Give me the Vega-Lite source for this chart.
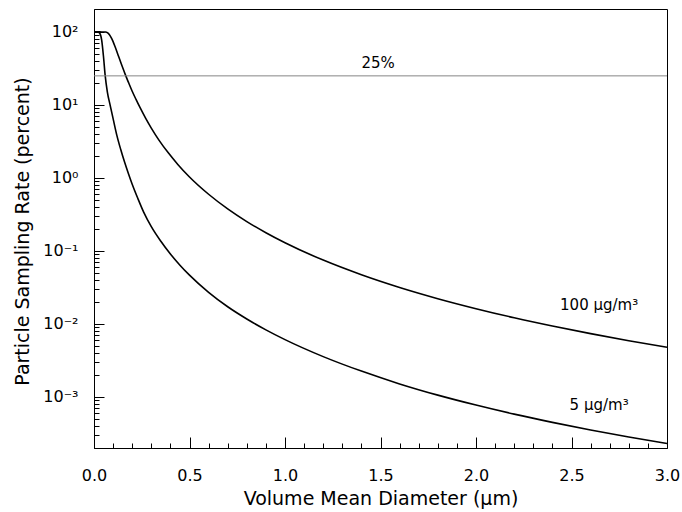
{
  "$schema": "https://vega.github.io/schema/vega-lite/v6.json",
  "width": 573,
  "height": 439,
  "autosize": {"type": "none"},
  "padding": {"left": 94, "top": 9, "right": 15, "bottom": 64},
  "background": "white",
  "config": {
    "view": {"stroke": "black", "strokeWidth": 1},
    "font": "DejaVu Sans",
    "axis": {
      "grid": false,
      "domainColor": "black",
      "tickColor": "black",
      "labelColor": "black",
      "titleColor": "black",
      "labelFont": "DejaVu Sans",
      "titleFont": "DejaVu Sans",
      "titleFontWeight": "normal",
      "tickWidth": 1,
      "domainWidth": 1
    }
  },
  "datasets": {
    "curves": [
      {"series": "100", "d": 0.0, "rate": 100},
      {"series": "100", "d": 0.03, "rate": 100},
      {"series": "100", "d": 0.05, "rate": 99.9},
      {"series": "100", "d": 0.06, "rate": 99.7},
      {"series": "100", "d": 0.07, "rate": 97.7},
      {"series": "100", "d": 0.08, "rate": 92.0},
      {"series": "100", "d": 0.09, "rate": 83.5},
      {"series": "100", "d": 0.10, "rate": 73.5},
      {"series": "100", "d": 0.11, "rate": 63.0},
      {"series": "100", "d": 0.12, "rate": 53.5},
      {"series": "100", "d": 0.13, "rate": 45.2},
      {"series": "100", "d": 0.14, "rate": 38.3},
      {"series": "100", "d": 0.15, "rate": 32.5},
      {"series": "100", "d": 0.165, "rate": 25.6},
      {"series": "100", "d": 0.18, "rate": 20.5},
      {"series": "100", "d": 0.20, "rate": 15.4},
      {"series": "100", "d": 0.22, "rate": 11.9},
      {"series": "100", "d": 0.24, "rate": 9.3},
      {"series": "100", "d": 0.27, "rate": 6.6},
      {"series": "100", "d": 0.30, "rate": 4.82},
      {"series": "100", "d": 0.34, "rate": 3.3},
      {"series": "100", "d": 0.39, "rate": 2.19},
      {"series": "100", "d": 0.44, "rate": 1.52},
      {"series": "100", "d": 0.50, "rate": 1.03},
      {"series": "100", "d": 0.60, "rate": 0.598},
      {"series": "100", "d": 0.70, "rate": 0.377},
      {"series": "100", "d": 0.80, "rate": 0.2526},
      {"series": "100", "d": 0.90, "rate": 0.1776},
      {"series": "100", "d": 1.0, "rate": 0.1295},
      {"series": "100", "d": 1.2, "rate": 0.0749},
      {"series": "100", "d": 1.4, "rate": 0.0472},
      {"series": "100", "d": 1.6, "rate": 0.0316},
      {"series": "100", "d": 1.8, "rate": 0.0222},
      {"series": "100", "d": 2.0, "rate": 0.0162},
      {"series": "100", "d": 2.2, "rate": 0.01216},
      {"series": "100", "d": 2.4, "rate": 0.00937},
      {"series": "100", "d": 2.6, "rate": 0.00737},
      {"series": "100", "d": 2.8, "rate": 0.0059},
      {"series": "100", "d": 3.0, "rate": 0.0048},
      {"series": "5", "d": 0.0, "rate": 100},
      {"series": "5", "d": 0.02, "rate": 100},
      {"series": "5", "d": 0.03, "rate": 96},
      {"series": "5", "d": 0.04, "rate": 78},
      {"series": "5", "d": 0.05, "rate": 45},
      {"series": "5", "d": 0.058, "rate": 26},
      {"series": "5", "d": 0.07, "rate": 15},
      {"series": "5", "d": 0.085, "rate": 9.8},
      {"series": "5", "d": 0.10, "rate": 6.5},
      {"series": "5", "d": 0.12, "rate": 3.8},
      {"series": "5", "d": 0.14, "rate": 2.45},
      {"series": "5", "d": 0.16, "rate": 1.65},
      {"series": "5", "d": 0.18, "rate": 1.15},
      {"series": "5", "d": 0.20, "rate": 0.82},
      {"series": "5", "d": 0.23, "rate": 0.52},
      {"series": "5", "d": 0.26, "rate": 0.34},
      {"series": "5", "d": 0.30, "rate": 0.215},
      {"series": "5", "d": 0.35, "rate": 0.1355},
      {"series": "5", "d": 0.40, "rate": 0.0908},
      {"series": "5", "d": 0.45, "rate": 0.0638},
      {"series": "5", "d": 0.50, "rate": 0.0466},
      {"series": "5", "d": 0.60, "rate": 0.0271},
      {"series": "5", "d": 0.70, "rate": 0.0172},
      {"series": "5", "d": 0.80, "rate": 0.0117},
      {"series": "5", "d": 0.90, "rate": 0.0083},
      {"series": "5", "d": 1.0, "rate": 0.0061},
      {"series": "5", "d": 1.2, "rate": 0.00357},
      {"series": "5", "d": 1.4, "rate": 0.00226},
      {"series": "5", "d": 1.6, "rate": 0.00151},
      {"series": "5", "d": 1.8, "rate": 0.00106},
      {"series": "5", "d": 2.0, "rate": 0.000775},
      {"series": "5", "d": 2.2, "rate": 0.000582},
      {"series": "5", "d": 2.4, "rate": 0.000449},
      {"series": "5", "d": 2.6, "rate": 0.000353},
      {"series": "5", "d": 2.8, "rate": 0.000283},
      {"series": "5", "d": 3.0, "rate": 0.00023}
    ],
    "ref": [{"rate": 25}],
    "labels": [
      {"d": 1.40, "rate": 37.6, "text": "25%"},
      {"d": 2.44, "rate": 0.0182, "text": "100 μg/m³"},
      {"d": 2.49, "rate": 0.00077, "text": "5 μg/m³"}
    ]
  },
  "resolve": {"axis": {"x": "independent", "y": "independent"}},
  "layer": [
    {
      "data": {"name": "curves"},
      "mark": {"type": "line", "interpolate": "monotone", "color": "black", "strokeWidth": 1.6},
      "encoding": {
        "x": {
          "field": "d",
          "type": "quantitative",
          "scale": {"domain": [0, 3], "nice": false, "zero": false},
          "axis": {
            "orient": "bottom",
            "title": "Volume Mean Diameter (μm)",
            "values": [0, 0.5, 1.0, 1.5, 2.0, 2.5, 3.0],
            "tickCount": 500,
            "format": ".1f",
            "tickSize": -11,
            "labelPadding": 30,
            "labelFontSize": 16,
            "labelFlush": false,
            "labelOverlap": false,
            "titleFontSize": 19,
            "titleY": 50,
            "titleBaseline": "middle"
          }
        },
        "y": {
          "field": "rate",
          "type": "quantitative",
          "scale": {"type": "log", "domain": [0.0002, 206], "nice": false},
          "axis": {
            "orient": "left",
            "title": "Particle Sampling Rate (percent)",
            "values": [0.001, 0.01, 0.1, 1, 10, 100],
            "tickCount": 500,
            "labelExpr": "round(log(datum.value)/LN10) == 2 ? '10²' : round(log(datum.value)/LN10) == 1 ? '10¹' : round(log(datum.value)/LN10) == 0 ? '10⁰' : round(log(datum.value)/LN10) == -1 ? '10⁻¹' : round(log(datum.value)/LN10) == -2 ? '10⁻²' : '10⁻³'",
            "tickSize": -10,
            "labelPadding": 26,
            "labelFontSize": 16,
            "labelOverlap": false,
            "labelFlush": false,
            "titleFontSize": 19,
            "titleAngle": -90,
            "titleX": -72,
            "titleY": 222,
            "titleAlign": "center",
            "titleBaseline": "middle"
          }
        },
        "detail": {"field": "series", "type": "nominal"}
      }
    },
    {
      "data": {"name": "ref"},
      "mark": {"type": "rule", "color": "#858585", "strokeWidth": 1},
      "encoding": {
        "y": {
          "field": "rate",
          "type": "quantitative",
          "axis": {
            "orient": "left",
            "title": null,
            "values": [0.0003, 0.0004, 0.0005, 0.0006, 0.0007, 0.0008, 0.0009, 0.002, 0.003, 0.004, 0.005, 0.006, 0.007, 0.008, 0.009, 0.02, 0.03, 0.04, 0.05, 0.06, 0.07, 0.08, 0.09, 0.2, 0.3, 0.4, 0.5, 0.6, 0.7, 0.8, 0.9, 2, 3, 4, 5, 6, 7, 8, 9, 20, 30, 40, 50, 60, 70, 80, 90],
            "tickCount": 500,
            "tickSize": -5,
            "labels": false,
            "domain": false
          }
        }
      }
    },
    {
      "data": {"name": "labels"},
      "mark": {"type": "text", "align": "left", "baseline": "middle", "fontSize": 15, "font": "DejaVu Sans", "color": "black"},
      "encoding": {
        "x": {
          "field": "d",
          "type": "quantitative",
          "axis": {
            "orient": "bottom",
            "title": null,
            "values": [0.1, 0.2, 0.3, 0.4, 0.6, 0.7, 0.8, 0.9, 1.1, 1.2, 1.3, 1.4, 1.6, 1.7, 1.8, 1.9, 2.1, 2.2, 2.3, 2.4, 2.6, 2.7, 2.8, 2.9],
            "tickCount": 500,
            "tickSize": -5,
            "labels": false,
            "domain": false
          }
        },
        "y": {"field": "rate", "type": "quantitative", "axis": null},
        "text": {"field": "text", "type": "nominal"}
      }
    }
  ]
}
